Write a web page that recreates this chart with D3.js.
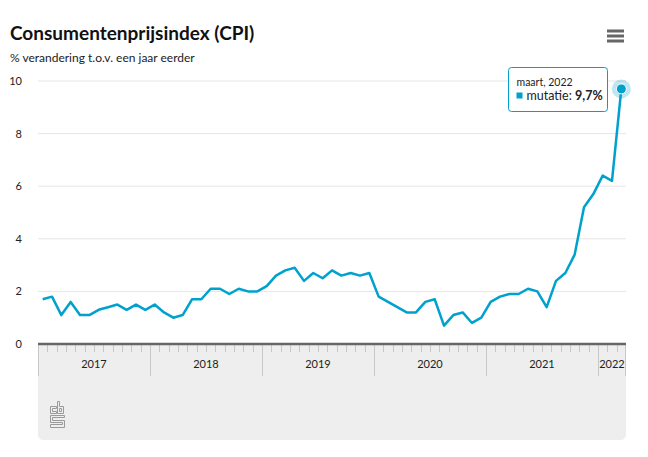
<!DOCTYPE html>
<html><head><meta charset="utf-8">
<script src="https://cdn.jsdelivr.net/npm/d3@7"></script>
<style>
body{margin:0;background:#fff;}
svg{display:block;font-family:"Lato","Open Sans",sans-serif;}
</style></head>
<body><svg id="c" width="648" height="457"></svg>
<script>
const years = ["2017","2018","2019","2020","2021","2022"];
const monthsPerYear = [12,12,12,12,12,3];
const values = [
 1.7,1.8,1.1,1.6,1.1,1.1,1.3,1.4,1.5,1.3,1.5,1.3,
 1.5,1.2,1.0,1.1,1.7,1.7,2.1,2.1,1.9,2.1,2.0,2.0,
 2.2,2.6,2.8,2.9,2.4,2.7,2.5,2.8,2.6,2.7,2.6,2.7,
 1.8,1.6,1.4,1.2,1.2,1.6,1.7,0.7,1.1,1.2,0.8,1.0,
 1.6,1.8,1.9,1.9,2.1,2.0,1.4,2.4,2.7,3.4,5.2,5.7,
 6.4,6.2,9.7
];
const yTicks = [0,2,4,6,8,10];
const monthNames = ["januari","februari","maart","april","mei","juni","juli","augustus","september","oktober","november","december"];
const title = "Consumentenprijsindex (CPI)";
const subtitle = "% verandering t.o.v. een jaar eerder";
const seriesName = "mutatie";

const months = [];
years.forEach((y,i)=>{ for(let m=0;m<monthsPerYear[i];m++) months.push({year:y,m}); });
const data = months.map((d,i)=>({...d,i,v:values[i]}));

const svg = d3.select("#c");
const blue = "#00a1cd";
const L=38,R=626,T=81,B=344;
const x = d3.scaleBand().domain(d3.range(months.length)).range([L,R]).padding(0);
const y = d3.scaleLinear().domain([0,10]).range([B,T]);
const cx = i => x(i)+x.bandwidth()/2;

// title
svg.append("text").attr("x",10).attr("y",40).attr("font-size",19).attr("font-weight",700).attr("fill","#111").text(title);
svg.append("text").attr("x",10).attr("y",62).attr("font-size",12).attr("fill","#222").text(subtitle);

// menu icon
[31,36,41].forEach(yy=>svg.append("rect").attr("x",607).attr("y",yy-1.5).attr("width",17).attr("height",3).attr("fill","#666"));

// gridlines + y labels
const g = svg.append("g");
yTicks.forEach(t=>{
  if(t>0) g.append("line").attr("x1",L).attr("x2",R).attr("y1",y(t)).attr("y2",y(t)).attr("stroke","#e6e6e6").attr("stroke-width",1);
  g.append("text").attr("x",22).attr("y",y(t)+4).attr("text-anchor","end").attr("font-size",11).attr("fill","#222").text(t);
});

// navigator / x-axis box
svg.append("path").attr("d",()=>{
  const r=6,bt=440;
  return `M${L},${B} H${R} V${bt-r} Q${R},${bt} ${R-r},${bt} H${L+r} Q${L},${bt} ${L},${bt-r} Z`;
}).attr("fill","#eeeeee");

// month ticks
const ticks = svg.append("g");
let idx=0;
years.forEach((yr,k)=>{
  const start=idx, n=monthsPerYear[k];
  for(let m=0;m<n;m++){
    const xx = Math.round(x(idx))+0.5;
    ticks.append("line").attr("x1",xx).attr("x2",xx).attr("y1",B).attr("y2",m===0?376:352).attr("stroke","#c8c8c8");
    idx++;
  }
  const x0=x(start), x1=x(start+n-1)+x.bandwidth();
  ticks.append("text").attr("x",(x0+x1)/2).attr("y",368).attr("text-anchor","middle").attr("font-size",11).attr("fill","#222").text(yr);
});
ticks.append("line").attr("x1",R-0.5).attr("x2",R-0.5).attr("y1",B).attr("y2",376).attr("stroke","#c8c8c8");
svg.append("line").attr("x1",L).attr("x2",R).attr("y1",B).attr("y2",B).attr("stroke","#666").attr("stroke-width",2.5);

// cbs logo
const lg = svg.append("g").attr("fill","none").attr("stroke","#9a9a9a").attr("stroke-width",1);
lg.append("path").attr("d","M56.5,406.5 H50.5 V413.5 H56.5 V411.5 H52.5 V408.5 H56.5 Z");
lg.append("path").attr("d","M57.5,401.5 H59.5 V406.5 H63.5 V413.5 H57.5 Z M59.5,408.5 H61.5 V411.5 H59.5 Z");
lg.append("path").attr("d","M64.5,415.5 H50.5 V422.5 H62.5 V424.5 H50.5 V427.5 H64.5 V420.5 H52.5 V417.5 H64.5 Z");

// line
svg.append("path").datum(data).attr("fill","none").attr("stroke",blue).attr("stroke-width",2.5).attr("stroke-linejoin","round")
  .attr("d",d3.line().x(d=>cx(d.i)).y(d=>y(d.v)));

// highlighted last point
const last = data[data.length-1];
svg.append("circle").attr("cx",cx(last.i)).attr("cy",y(last.v)).attr("r",9.5).attr("fill",blue).attr("fill-opacity",0.25);
svg.append("circle").attr("cx",cx(last.i)).attr("cy",y(last.v)).attr("r",5).attr("fill",blue).attr("stroke","#fff").attr("stroke-width",1);

// tooltip
const tt = svg.append("g").attr("transform","translate(508.5,67.5)");
tt.append("rect").attr("width",99).attr("height",44).attr("rx",3).attr("fill","#fff").attr("fill-opacity",0.95).attr("stroke",blue).attr("stroke-width",1);
tt.append("text").attr("x",8).attr("y",18).attr("font-size",10.5).attr("fill","#222").text(`${monthNames[last.m]}, ${last.year}`);
tt.append("rect").attr("x",8).attr("y",25).attr("width",6).attr("height",6).attr("fill",blue);
const t2 = tt.append("text").attr("x",18).attr("y",32).attr("font-size",12.5).attr("fill","#222");
t2.append("tspan").text(`${seriesName}: `);
t2.append("tspan").attr("font-weight",700).text(String(last.v).replace(".",",")+"%");
</script></body></html>
